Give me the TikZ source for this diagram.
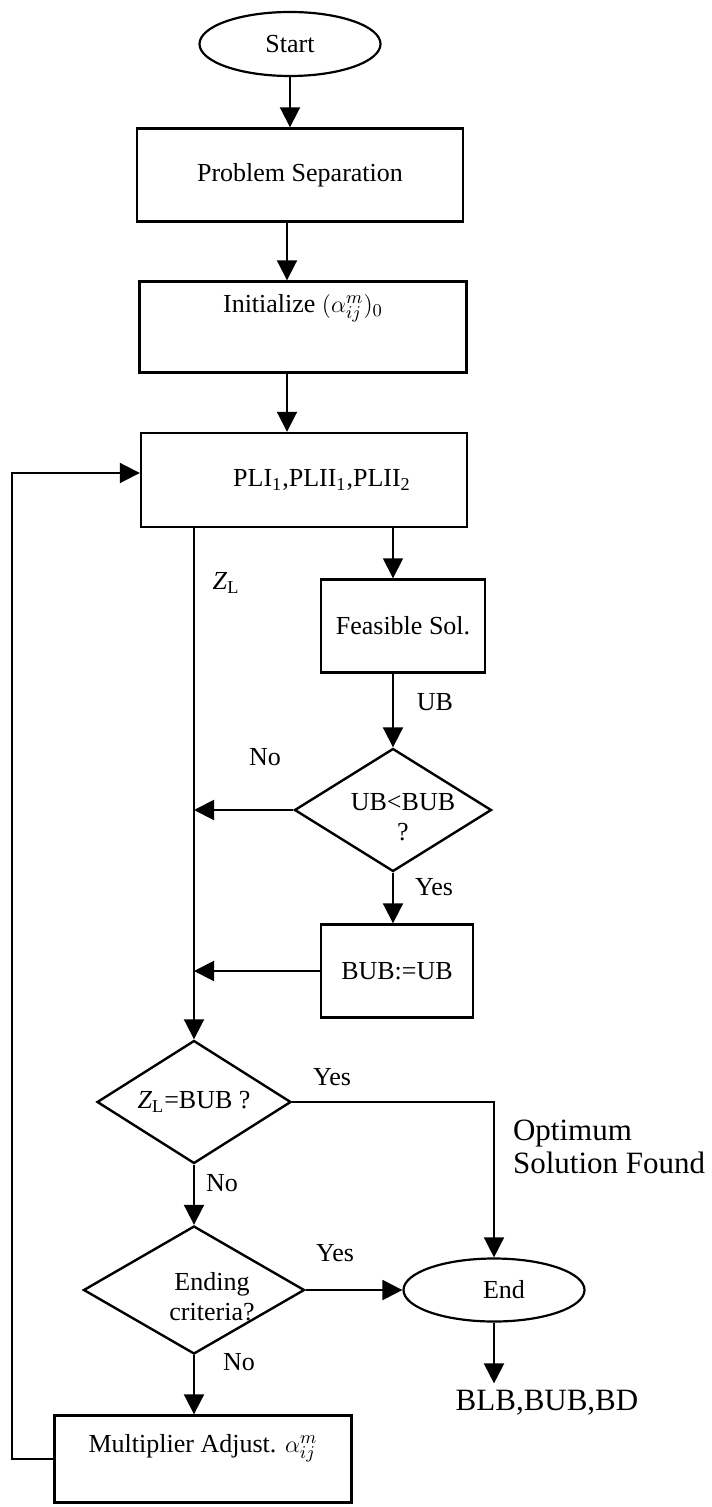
\documentclass[tikz,border=0pt]{standalone}
\usepackage{fontspec}
\setmainfont{Liberation Serif}
\usetikzlibrary{shapes.geometric,arrows.meta}
\begin{document}
\begin{tikzpicture}[x=0.5pt,y=-0.5pt,
  every node/.style={font=\fontsize{13}{15}\selectfont},
  box/.style={draw,line width=1.2pt,inner sep=0pt},
  oval/.style={draw,ellipse,line width=1.1pt,inner sep=0pt},
  decision/.style={draw,diamond,line width=1.2pt,inner sep=0pt},
  lbl/.style={inner sep=0pt},
  bigtxt/.style={font=\fontsize{15.5}{16.5}\selectfont},
  arr/.style={line width=1pt,-{Triangle[length=10pt,width=10pt]}}]
\useasboundingbox (0,0) rectangle (711,1507);
\coordinate (spine) at (287,0);
\coordinate (back) at (12,0);
% boxes
\node[oval,minimum width=90.5pt,minimum height=32pt] (start) at (290,44) {Start};
\node[box,minimum width=163pt,minimum height=46.5pt] (sep) at (300,175) {Problem Separation};
\node[box,minimum width=163.5pt,minimum height=45.5pt,text height=9pt,text depth=23.5pt] (init) at (303,327) {Initialize $(\alpha^{m}_{ij})_0$};
\node[box,minimum width=163pt,minimum height=47pt] (pli) at (304,480) {\hspace*{18pt}PLI\textsubscript{1},PLII\textsubscript{1},PLII\textsubscript{2}};
\node[box,minimum width=82pt,minimum height=46.5pt] (feas) at (403,626) {Feasible Sol.};
\node[decision,minimum width=98.5pt,minimum height=61.5pt,label={[align=center,xshift=5pt,yshift=-3.5pt,name=ubtxt]center:UB<BUB\\?}] (ub) at (393,810) {};
\node[box,minimum width=76pt,minimum height=46.5pt] (ubox) at (397,971) {BUB:=UB};
\node[decision,minimum width=97pt,minimum height=61.5pt,label={[name=zltxt]center:\textit{Z}\textsubscript{L}=BUB ?}] (zl) at (194,1102) {};
\node[decision,minimum width=110.5pt,minimum height=64pt,label={[align=center,xshift=9pt,yshift=-3.5pt,name=endtxt]center:Ending\\criteria?}] (endc) at (194,1290) {};
\node[oval,minimum width=90.5pt,minimum height=31.5pt] (finish) at (494,1290) {\hspace*{10pt}End};
\node[box,minimum width=148.5pt,minimum height=43.5pt,text height=9pt,text depth=15.5pt] (mult) at (203,1459) {Multiplier Adjust. $\alpha^{m}_{ij}$};
\node[bigtxt,anchor=west,align=left] (found) at (506,1147) {Optimum\\Solution Found};
\node[bigtxt] (result) at (547,1403) {BLB,BUB,BD};
% labels
\node[lbl] (zlab) at (226,583) {\textit{Z}\textsubscript{L}};
\node[lbl] (ublab) at (435,702) {UB};
\node[lbl] (no1) at (265,757) {No};
\node[lbl] (yes1) at (434,887) {Yes};
\node[lbl] (yes2) at (332,1077) {Yes};
\node[lbl] (no2) at (222,1183) {No};
\node[lbl] (yes3) at (335,1253) {Yes};
\node[lbl] (no3) at (239,1362) {No};
% connectors
\draw[arr] (start.south) -- (start.south |- sep.north);
\draw[arr] (sep.south -| spine) -- (init.north -| spine);
\draw[arr] (init.south -| spine) -- (pli.north -| spine);
\draw[arr] (pli.south -| zl.north) -- (zl.north);
\draw[arr,line width=0.8pt] (pli.south -| ub.north) -- (feas.north -| ub.north);
\draw[arr] (feas.south -| ub.north) -- (ub.north);
\draw[arr] (ub.west) -- (ub.west -| zl.north);
\draw[arr] (ub.south) -- (ub.south |- ubox.north);
\draw[arr] (ubox.west) -- (ubox.west -| zl.north);
\draw[arr,line width=0.8pt] (zl.east) -| (finish.north);
\draw[arr] (zl.south) -- (endc.north);
\draw[arr] (endc.east) -- (finish.west);
\draw[arr] (endc.south) -- (endc.south |- mult.north);
\draw[arr] (finish.south) -- (finish.south |- result.north);
\draw[arr] (mult.west) -- (mult.west -| back) -- ([yshift=3.5pt]pli.west -| back) -- ([yshift=3.5pt]pli.west);
\end{tikzpicture}
\end{document}
